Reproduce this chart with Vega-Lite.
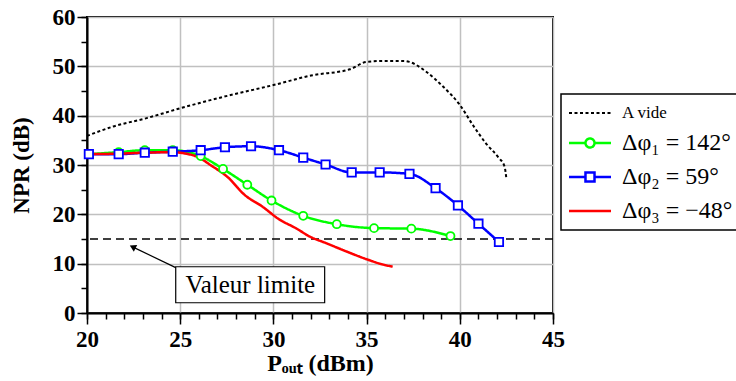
{
  "$schema": "https://vega.github.io/schema/vega-lite/v6.json",
  "autosize": "none",
  "width": 466,
  "height": 296,
  "padding": {"left": 87, "top": 17, "right": 183, "bottom": 68},
  "config": {
    "view": {"stroke": "black", "strokeWidth": 2},
    "font": "Liberation Serif, Times New Roman, serif"
  },
  "datasets": {
    "npr": [
      {"series": "A vide", "x": 20.0, "y": 35.9},
      {"series": "A vide", "x": 21.4, "y": 37.8},
      {"series": "A vide", "x": 23.2, "y": 39.5},
      {"series": "A vide", "x": 25.0, "y": 41.5},
      {"series": "A vide", "x": 27.3, "y": 43.8},
      {"series": "A vide", "x": 30.0, "y": 46.2},
      {"series": "A vide", "x": 32.1, "y": 48.2},
      {"series": "A vide", "x": 34.1, "y": 49.4},
      {"series": "A vide", "x": 35.0, "y": 50.9},
      {"series": "A vide", "x": 36.0, "y": 51.1},
      {"series": "A vide", "x": 37.0, "y": 51.1},
      {"series": "A vide", "x": 37.3, "y": 50.9},
      {"series": "A vide", "x": 38.2, "y": 48.9},
      {"series": "A vide", "x": 39.1, "y": 45.9},
      {"series": "A vide", "x": 40.0, "y": 42.2},
      {"series": "A vide", "x": 40.7, "y": 38.1},
      {"series": "A vide", "x": 41.4, "y": 34.4},
      {"series": "A vide", "x": 42.1, "y": 31.4},
      {"series": "A vide", "x": 42.4, "y": 29.7},
      {"series": "A vide", "x": 42.5, "y": 27.2},
      {"series": "Δφ₁ = 142°", "x": 20.1, "y": 32.2},
      {"series": "Δφ₁ = 142°", "x": 21.7, "y": 32.6},
      {"series": "Δφ₁ = 142°", "x": 23.1, "y": 33.0},
      {"series": "Δφ₁ = 142°", "x": 24.6, "y": 33.0},
      {"series": "Δφ₁ = 142°", "x": 26.1, "y": 31.8},
      {"series": "Δφ₁ = 142°", "x": 27.3, "y": 29.2},
      {"series": "Δφ₁ = 142°", "x": 28.6, "y": 26.0},
      {"series": "Δφ₁ = 142°", "x": 29.9, "y": 22.8},
      {"series": "Δφ₁ = 142°", "x": 31.6, "y": 19.7},
      {"series": "Δφ₁ = 142°", "x": 33.4, "y": 18.0},
      {"series": "Δφ₁ = 142°", "x": 35.4, "y": 17.2},
      {"series": "Δφ₁ = 142°", "x": 37.4, "y": 17.1},
      {"series": "Δφ₁ = 142°", "x": 39.5, "y": 15.6},
      {"series": "Δφ₂ = 59°", "x": 20.1, "y": 32.2},
      {"series": "Δφ₂ = 59°", "x": 21.7, "y": 32.2},
      {"series": "Δφ₂ = 59°", "x": 23.1, "y": 32.5},
      {"series": "Δφ₂ = 59°", "x": 24.6, "y": 32.7},
      {"series": "Δφ₂ = 59°", "x": 26.1, "y": 33.0},
      {"series": "Δφ₂ = 59°", "x": 27.4, "y": 33.6},
      {"series": "Δφ₂ = 59°", "x": 28.8, "y": 33.8},
      {"series": "Δφ₂ = 59°", "x": 30.3, "y": 33.0},
      {"series": "Δφ₂ = 59°", "x": 31.6, "y": 31.5},
      {"series": "Δφ₂ = 59°", "x": 32.8, "y": 30.1},
      {"series": "Δφ₂ = 59°", "x": 34.2, "y": 28.5},
      {"series": "Δφ₂ = 59°", "x": 35.7, "y": 28.5},
      {"series": "Δφ₂ = 59°", "x": 37.3, "y": 28.2},
      {"series": "Δφ₂ = 59°", "x": 38.7, "y": 25.3},
      {"series": "Δφ₂ = 59°", "x": 39.9, "y": 21.8},
      {"series": "Δφ₂ = 59°", "x": 41.0, "y": 18.1},
      {"series": "Δφ₂ = 59°", "x": 42.1, "y": 14.4},
      {"series": "Δφ₃ = −48°", "x": 20.1, "y": 32.2},
      {"series": "Δφ₃ = −48°", "x": 21.7, "y": 32.3},
      {"series": "Δφ₃ = −48°", "x": 23.1, "y": 32.5},
      {"series": "Δφ₃ = −48°", "x": 24.6, "y": 32.6},
      {"series": "Δφ₃ = −48°", "x": 25.3, "y": 32.3},
      {"series": "Δφ₃ = −48°", "x": 25.9, "y": 31.7},
      {"series": "Δφ₃ = −48°", "x": 26.7, "y": 29.8},
      {"series": "Δφ₃ = −48°", "x": 27.5, "y": 27.7},
      {"series": "Δφ₃ = −48°", "x": 28.5, "y": 23.8},
      {"series": "Δφ₃ = −48°", "x": 29.4, "y": 21.6},
      {"series": "Δφ₃ = −48°", "x": 30.3, "y": 19.0},
      {"series": "Δφ₃ = −48°", "x": 31.2, "y": 17.2},
      {"series": "Δφ₃ = −48°", "x": 32.0, "y": 15.4},
      {"series": "Δφ₃ = −48°", "x": 32.8, "y": 14.2},
      {"series": "Δφ₃ = −48°", "x": 33.9, "y": 12.5},
      {"series": "Δφ₃ = −48°", "x": 35.0, "y": 10.9},
      {"series": "Δφ₃ = −48°", "x": 35.9, "y": 9.8},
      {"series": "Δφ₃ = −48°", "x": 36.4, "y": 9.4}
    ],
    "one": [{}]
  },
  "resolve": {"axis": {"x": "independent", "y": "independent"}},
  "layer": [
    {
      "data": {"name": "one"},
      "mark": {"type": "rect", "fill": "white", "stroke": "black", "strokeWidth": 1.2},
      "encoding": {
        "x": {"datum": 24.76, "type": "quantitative",
          "scale": {"domain": [20, 45], "nice": false, "zero": false},
          "axis": {"orient": "bottom", "values": [20,21,22,23,24,25,26,27,28,29,30,31,32,33,34,35,36,37,38,39,40,41,42,43,44,45],
            "labels": false, "domain": false, "grid": false, "title": null, "tickColor": "black", "tickSize": 6, "tickWidth": 1.5}},
        "x2": {"datum": 32.75},
        "y": {"datum": 2.08, "type": "quantitative",
          "scale": {"domain": [0, 60], "nice": false},
          "axis": {"orient": "left", "values": [0,5,10,15,20,25,30,35,40,45,50,55,60],
            "labels": false, "domain": false, "grid": false, "title": null, "tickColor": "black", "tickSize": 6, "tickWidth": 1.5}},
        "y2": {"datum": 9.37}
      }
    },
    {
      "data": {"name": "one"},
      "mark": {"type": "rule", "strokeDash": [8, 5], "strokeWidth": 1.3, "color": "black"},
      "encoding": {
        "y": {"datum": 15, "type": "quantitative", "axis": null}
      }
    },
    {
      "data": {"name": "npr"},
      "mark": {"type": "line", "interpolate": "monotone", "strokeWidth": 2.5},
      "encoding": {
        "x": {
          "field": "x", "type": "quantitative",
          "axis": {
            "orient": "bottom",
            "values": [20, 25, 30, 35, 40, 45],
            "title": "Pₒᵤₜ (dBm)",
            "grid": true, "gridColor": "#c0c0c0", "gridWidth": 1.5, "gridOpacity": 1,
            "domainColor": "black", "domainWidth": 2,
            "tickColor": "black", "tickSize": 11, "tickWidth": 1.5,
            "labelFont": "Liberation Serif", "labelFontWeight": "bold", "labelFontSize": 23, "labelColor": "black",
            "labelPadding": 4, "labelFlush": false, "labelOverlap": false,
            "titleFont": "Liberation Serif", "titleFontSize": 24, "titleFontWeight": "bold", "titleColor": "black",
            "titlePadding": 0
          }
        },
        "y": {
          "field": "y", "type": "quantitative",
          "axis": {
            "orient": "left",
            "values": [0, 10, 20, 30, 40, 50, 60],
            "title": "NPR (dB)",
            "grid": true, "gridColor": "#c0c0c0", "gridWidth": 1.5, "gridOpacity": 1,
            "domainColor": "black", "domainWidth": 2,
            "tickColor": "black", "tickSize": 10, "tickWidth": 1.5,
            "labelFont": "Liberation Serif", "labelFontWeight": "bold", "labelFontSize": 23, "labelColor": "black",
            "labelPadding": 2, "labelFlush": false, "labelOverlap": false,
            "titleFont": "Liberation Serif", "titleFontSize": 23, "titleFontWeight": "bold", "titleColor": "black",
            "titlePadding": 19
          }
        },
        "color": {
          "field": "series", "type": "nominal",
          "scale": {
            "domain": ["A vide", "Δφ₁ = 142°", "Δφ₂ = 59°", "Δφ₃ = −48°"],
            "range": ["black", "#00ff00", "#0000ff", "#ff0000"]
          },
          "legend": {
            "orient": "none", "legendX": 474, "legendY": 77,
            "title": null,
            "strokeColor": "black", "fillColor": "white",
            "padding": 7, "rowPadding": 10,
            "symbolSize": 441, "symbolOffset": 10, "labelOffset": 20,
            "labelFont": "Liberation Serif", "labelFontSize": 24, "labelColor": "black", "labelLimit": 300,
            "symbolStrokeWidth": 2.5,
            "encode": {
              "symbols": {"update": {
                "shape": {"signal": "datum.value === 'A vide' || datum.value === 'Δφ₃ = −48°' ? 'M-2,0H2' : datum.value === 'Δφ₁ = 142°' ? 'M-2,0H-0.43M0.43,0H2M-0.43,0A0.43,0.43 0 1,0 0.43,0A0.43,0.43 0 1,0 -0.43,0' : 'M-2,0H-0.43M0.43,0H2M-0.43,-0.43H0.43V0.43H-0.43Z'"},
                "strokeDash": {"signal": "datum.value === 'A vide' ? [3, 2] : [1, 0]"},
                "strokeWidth": {"signal": "datum.value === 'A vide' ? 2 : 2.5"},
                "fill": {"value": "white"}
              }},
              "labels": {"update": {"fontSize": {"signal": "datum.value === 'A vide' ? 17 : 24"}}},
              "legend": {"update": {"strokeWidth": {"value": 1.5}, "width": {"value": 190}}}
            }
          }
        },
        "strokeDash": {
          "field": "series", "type": "nominal",
          "scale": {
            "domain": ["A vide", "Δφ₁ = 142°", "Δφ₂ = 59°", "Δφ₃ = −48°"],
            "range": [[3, 2.5], [1, 0], [1, 0], [1, 0]]
          },
          "legend": null
        },
        "size": {"condition": {"test": "datum.series === 'A vide'", "value": 2}, "value": 2.5}
      }
    },
    {
      "data": {"name": "npr"},
      "transform": [{"filter": "datum.series === 'Δφ₁ = 142°'"}],
      "mark": {"type": "point", "shape": "circle", "filled": false, "fill": "white", "size": 64, "strokeWidth": 1.8, "opacity": 1},
      "encoding": {
        "x": {"field": "x", "type": "quantitative", "axis": null},
        "y": {"field": "y", "type": "quantitative", "axis": null},
        "color": {"field": "series", "type": "nominal"}
      }
    },
    {
      "data": {"name": "npr"},
      "transform": [{"filter": "datum.series === 'Δφ₂ = 59°'"}],
      "mark": {"type": "point", "shape": "square", "filled": false, "fill": "white", "size": 70, "strokeWidth": 1.8, "opacity": 1},
      "encoding": {
        "x": {"field": "x", "type": "quantitative", "axis": null},
        "y": {"field": "y", "type": "quantitative", "axis": null},
        "color": {"field": "series", "type": "nominal"}
      }
    },
    {
      "data": {"name": "one"},
      "mark": {"type": "text", "text": "Valeur limite", "font": "Liberation Serif", "fontSize": 25, "color": "black", "align": "center", "baseline": "middle"},
      "encoding": {
        "x": {"datum": 28.76, "type": "quantitative", "axis": null},
        "y": {"datum": 5.6, "type": "quantitative", "axis": null}
      }
    },
    {
      "data": {"name": "one"},
      "mark": {"type": "rule", "color": "black", "strokeWidth": 1.2},
      "encoding": {
        "x": {"datum": 24.76, "type": "quantitative", "axis": null},
        "y": {"datum": 9.2, "type": "quantitative", "axis": null},
        "x2": {"datum": 22.5},
        "y2": {"datum": 13.3}
      }
    },
    {
      "data": {"name": "one"},
      "mark": {"type": "point", "shape": "triangle-up", "filled": true, "color": "black", "size": 55, "angle": 297, "opacity": 1},
      "encoding": {
        "x": {"datum": 22.45, "type": "quantitative", "axis": null},
        "y": {"datum": 13.4, "type": "quantitative", "axis": null}
      }
    }
  ]
}
